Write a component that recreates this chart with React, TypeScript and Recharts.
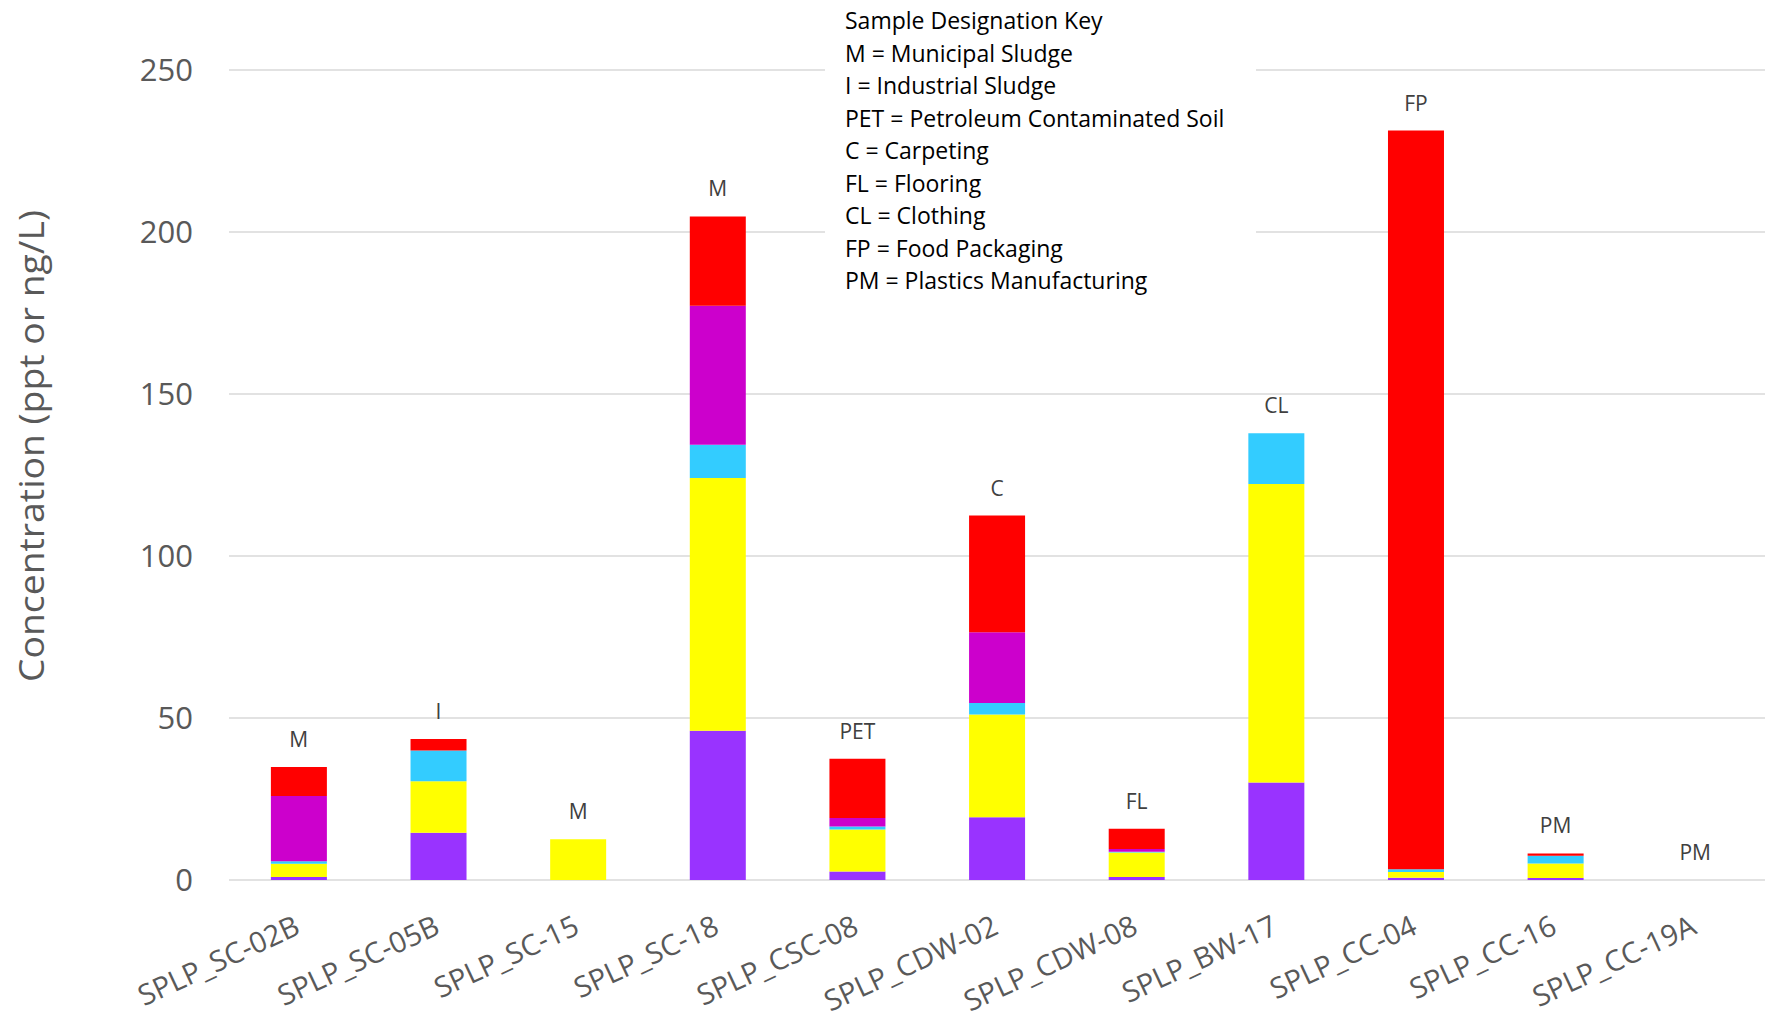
import React from 'react';
import { ComposedChart, Bar, Scatter, XAxis, YAxis, CartesianGrid } from 'recharts';

// Sample names along the x axis and their source-type designation codes
const SAMPLES = [
  'SPLP_SC-02B', 'SPLP_SC-05B', 'SPLP_SC-15', 'SPLP_SC-18', 'SPLP_CSC-08', 'SPLP_CDW-02',
  'SPLP_CDW-08', 'SPLP_BW-17', 'SPLP_CC-04', 'SPLP_CC-16', 'SPLP_CC-19A',
];
const CODES = ['M', 'I', 'M', 'M', 'PET', 'C', 'FL', 'CL', 'FP', 'PM', 'PM'];

// Stacked components, bottom to top (ppt)
const PURPLE = [0.9, 14.6, 0, 46.1, 2.6, 19.4, 0.9, 30.1, 0.7, 0.6, 0];
const YELLOW = [4.1, 15.9, 12.6, 78.0, 13.0, 31.7, 7.6, 92.1, 1.8, 4.5, 0];
const CYAN = [0.8, 9.5, 0, 10.2, 0.9, 3.5, 0.2, 15.7, 0.8, 2.4, 0];
const MAGENTA = [20.1, 0, 0, 42.9, 2.6, 21.9, 0.9, 0, 0, 0, 0];
const RED = [9.0, 3.5, 0, 27.6, 18.3, 36.0, 6.2, 0, 228.0, 0.7, 0];

const Y_TICKS = [0, 50, 100, 150, 200, 250];

const KEY_LINES = [
  'Sample Designation Key',
  'M = Municipal Sludge',
  'I = Industrial Sludge',
  'PET = Petroleum Contaminated Soil',
  'C = Carpeting',
  'FL = Flooring',
  'CL = Clothing',
  'FP = Food Packaging',
  'PM = Plastics Manufacturing',
];

const FONT = "'Open Sans', 'Noto Sans', sans-serif";

const data = SAMPLES.map((name, i) => ({
  name,
  code: CODES[i],
  purple: PURPLE[i],
  yellow: YELLOW[i],
  cyan: CYAN[i],
  magenta: MAGENTA[i],
  red: RED[i],
  total: PURPLE[i] + YELLOW[i] + CYAN[i] + MAGENTA[i] + RED[i],
}));

const XTick = (props: any) => {
  const { x, y, payload } = props;
  return (
    <text
      x={0}
      y={0}
      textAnchor="end"
      transform={`translate(${x + 3},${y + 45}) rotate(-25)`}
      fill="#595959"
      fontSize={29}
      fontFamily={FONT}
    >
      {payload.value}
    </text>
  );
};

const YTick = (props: any) => {
  const { y, payload } = props;
  return (
    <text x={193} y={y} dy={11} textAnchor="end" fill="#595959" fontSize={31} fontFamily={FONT}>
      {payload.value}
    </text>
  );
};

// designation code printed just above each stack's total
const CodeMark = (props: any) => {
  const { cx, cy, payload } = props;
  return (
    <text
      x={cx}
      y={cy - 27}
      dy={7}
      textAnchor="middle"
      fill="#404040"
      fontSize={21}
      fontFamily={FONT}
    >
      {payload.code}
    </text>
  );
};

export default function App() {
  return (
    <div style={{ position: 'absolute', left: 0, top: 0, width: 1765, height: 1018, background: '#fff' }}>
      <ComposedChart
        width={1765}
        height={1018}
        data={data}
        margin={{ top: 70, right: 0, left: 0, bottom: 0 }}
        barCategoryGap="30%"
      >
        <CartesianGrid vertical={false} stroke="#d9d9d9" strokeWidth={1.5} />
        <XAxis
          dataKey="name"
          interval={0}
          height={138}
          axisLine={false}
          tickLine={false}
          tick={<XTick />}
        />
        <YAxis
          width={229}
          domain={[0, 250]}
          ticks={Y_TICKS}
          axisLine={false}
          tickLine={false}
          tick={<YTick />}
          label={{
            content: () => (
              <text
                transform="translate(31,446) rotate(-90)"
                textAnchor="middle"
                dominantBaseline="central"
                fill="#595959"
                fontSize={34}
                fontFamily={FONT}
                textLength={472}
                lengthAdjust="spacingAndGlyphs"
              >
                Concentration (ppt or ng/L)
              </text>
            ),
          }}
        />
        <Bar dataKey="purple" stackId="s" fill="#9933FF" isAnimationActive={false} />
        <Bar dataKey="yellow" stackId="s" fill="#FFFF00" isAnimationActive={false} />
        <Bar dataKey="cyan" stackId="s" fill="#33CCFF" isAnimationActive={false} />
        <Bar dataKey="magenta" stackId="s" fill="#CC00CC" isAnimationActive={false} />
        <Bar dataKey="red" stackId="s" fill="#FF0000" isAnimationActive={false} />
        <Scatter dataKey="total" shape={<CodeMark />} isAnimationActive={false} />
      </ComposedChart>
      <div
        style={{
          position: 'absolute',
          left: 825,
          top: 0,
          width: 431,
          height: 300,
          background: '#fff',
          boxSizing: 'border-box',
          paddingLeft: 20,
          paddingTop: 4,
          fontFamily: FONT,
          fontSize: 23,
          lineHeight: '32.5px',
          color: '#000',
          whiteSpace: 'nowrap',
        }}
      >
        {KEY_LINES.map((line) => (
          <div key={line}>{line}</div>
        ))}
      </div>
    </div>
  );
}
